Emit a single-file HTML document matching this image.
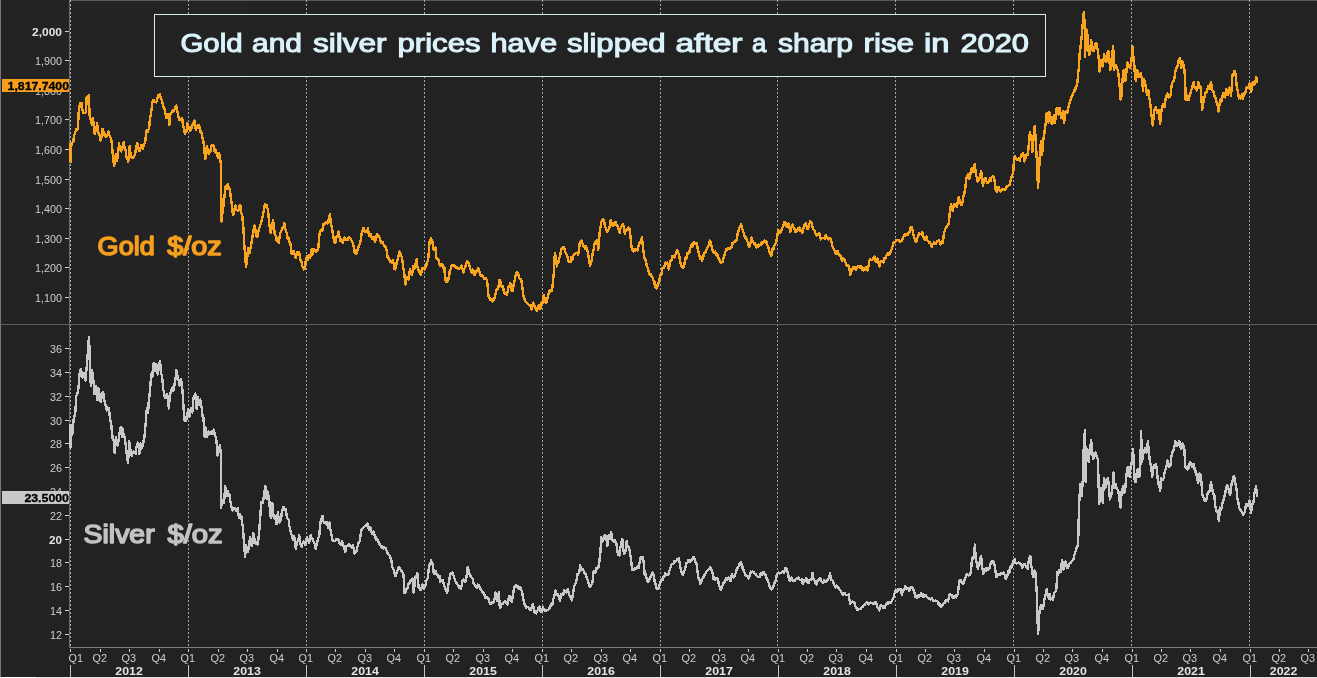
<!DOCTYPE html>
<html><head><meta charset="utf-8"><title>Gold and silver</title>
<style>
html,body{margin:0;padding:0;background:#232323;}
body{width:1317px;height:678px;overflow:hidden;}
svg{display:block;opacity:0.999;will-change:transform;font-family:"Liberation Sans",sans-serif;}
.ax{font-size:11px;fill:#cfcfcf;}
.b{font-weight:bold;fill:#e4e4e4;}
</style></head><body>
<svg width="1317" height="678" viewBox="0 0 1317 678">
<rect x="0" y="0" width="1317" height="678" fill="#232323"/>

<rect x="69" y="0" width="1248" height="1" fill="#5c5c5c"/>
<rect x="0" y="0" width="1" height="678" fill="#7a7a7a"/>
<line x1="70.5" y1="0" x2="70.5" y2="647" stroke="#b4b4b4" stroke-width="1" stroke-dasharray="2,2"/>
<line x1="188.5" y1="0" x2="188.5" y2="647" stroke="#a6a6a6" stroke-width="1" stroke-dasharray="2,2"/>
<line x1="306.5" y1="0" x2="306.5" y2="647" stroke="#a6a6a6" stroke-width="1" stroke-dasharray="2,2"/>
<line x1="424.5" y1="0" x2="424.5" y2="647" stroke="#a6a6a6" stroke-width="1" stroke-dasharray="2,2"/>
<line x1="542.5" y1="0" x2="542.5" y2="647" stroke="#a6a6a6" stroke-width="1" stroke-dasharray="2,2"/>
<line x1="660.5" y1="0" x2="660.5" y2="647" stroke="#a6a6a6" stroke-width="1" stroke-dasharray="2,2"/>
<line x1="777.5" y1="0" x2="777.5" y2="647" stroke="#a6a6a6" stroke-width="1" stroke-dasharray="2,2"/>
<line x1="895.5" y1="0" x2="895.5" y2="647" stroke="#a6a6a6" stroke-width="1" stroke-dasharray="2,2"/>
<line x1="1013.5" y1="0" x2="1013.5" y2="647" stroke="#a6a6a6" stroke-width="1" stroke-dasharray="2,2"/>
<line x1="1131.5" y1="0" x2="1131.5" y2="647" stroke="#a6a6a6" stroke-width="1" stroke-dasharray="2,2"/>
<line x1="1249.5" y1="0" x2="1249.5" y2="647" stroke="#a6a6a6" stroke-width="1" stroke-dasharray="2,2"/>
<rect x="0" y="324" width="1317" height="1" fill="#5e5e5e"/>
<rect x="69" y="647" width="1248" height="1" fill="#828282"/>
<rect x="69" y="0" width="1" height="648" fill="#6c6c6c"/>
<rect x="70" y="649" width="1" height="3" fill="#d0d0d0"/>
<text class="ax" x="68.5" y="662.2" textLength="14.5" lengthAdjust="spacingAndGlyphs">Q1</text>
<rect x="100" y="649" width="1" height="3" fill="#d0d0d0"/>
<text class="ax" x="92.5" y="662.2" textLength="14.5" lengthAdjust="spacingAndGlyphs">Q2</text>
<rect x="129" y="649" width="1" height="3" fill="#d0d0d0"/>
<text class="ax" x="121.5" y="662.2" textLength="14.5" lengthAdjust="spacingAndGlyphs">Q3</text>
<rect x="159" y="649" width="1" height="3" fill="#d0d0d0"/>
<text class="ax" x="151.5" y="662.2" textLength="14.5" lengthAdjust="spacingAndGlyphs">Q4</text>
<rect x="188" y="649" width="1" height="3" fill="#d0d0d0"/>
<text class="ax" x="180.5" y="662.2" textLength="14.5" lengthAdjust="spacingAndGlyphs">Q1</text>
<rect x="218" y="649" width="1" height="3" fill="#d0d0d0"/>
<text class="ax" x="210.5" y="662.2" textLength="14.5" lengthAdjust="spacingAndGlyphs">Q2</text>
<rect x="247" y="649" width="1" height="3" fill="#d0d0d0"/>
<text class="ax" x="239.5" y="662.2" textLength="14.5" lengthAdjust="spacingAndGlyphs">Q3</text>
<rect x="277" y="649" width="1" height="3" fill="#d0d0d0"/>
<text class="ax" x="269.5" y="662.2" textLength="14.5" lengthAdjust="spacingAndGlyphs">Q4</text>
<rect x="306" y="649" width="1" height="3" fill="#d0d0d0"/>
<text class="ax" x="298.5" y="662.2" textLength="14.5" lengthAdjust="spacingAndGlyphs">Q1</text>
<rect x="335" y="649" width="1" height="3" fill="#d0d0d0"/>
<text class="ax" x="327.5" y="662.2" textLength="14.5" lengthAdjust="spacingAndGlyphs">Q2</text>
<rect x="365" y="649" width="1" height="3" fill="#d0d0d0"/>
<text class="ax" x="357.5" y="662.2" textLength="14.5" lengthAdjust="spacingAndGlyphs">Q3</text>
<rect x="394" y="649" width="1" height="3" fill="#d0d0d0"/>
<text class="ax" x="386.5" y="662.2" textLength="14.5" lengthAdjust="spacingAndGlyphs">Q4</text>
<rect x="424" y="649" width="1" height="3" fill="#d0d0d0"/>
<text class="ax" x="416.5" y="662.2" textLength="14.5" lengthAdjust="spacingAndGlyphs">Q1</text>
<rect x="453" y="649" width="1" height="3" fill="#d0d0d0"/>
<text class="ax" x="445.5" y="662.2" textLength="14.5" lengthAdjust="spacingAndGlyphs">Q2</text>
<rect x="483" y="649" width="1" height="3" fill="#d0d0d0"/>
<text class="ax" x="475.5" y="662.2" textLength="14.5" lengthAdjust="spacingAndGlyphs">Q3</text>
<rect x="512" y="649" width="1" height="3" fill="#d0d0d0"/>
<text class="ax" x="504.5" y="662.2" textLength="14.5" lengthAdjust="spacingAndGlyphs">Q4</text>
<rect x="542" y="649" width="1" height="3" fill="#d0d0d0"/>
<text class="ax" x="534.5" y="662.2" textLength="14.5" lengthAdjust="spacingAndGlyphs">Q1</text>
<rect x="571" y="649" width="1" height="3" fill="#d0d0d0"/>
<text class="ax" x="563.5" y="662.2" textLength="14.5" lengthAdjust="spacingAndGlyphs">Q2</text>
<rect x="601" y="649" width="1" height="3" fill="#d0d0d0"/>
<text class="ax" x="593.5" y="662.2" textLength="14.5" lengthAdjust="spacingAndGlyphs">Q3</text>
<rect x="630" y="649" width="1" height="3" fill="#d0d0d0"/>
<text class="ax" x="622.5" y="662.2" textLength="14.5" lengthAdjust="spacingAndGlyphs">Q4</text>
<rect x="660" y="649" width="1" height="3" fill="#d0d0d0"/>
<text class="ax" x="652.5" y="662.2" textLength="14.5" lengthAdjust="spacingAndGlyphs">Q1</text>
<rect x="689" y="649" width="1" height="3" fill="#d0d0d0"/>
<text class="ax" x="681.5" y="662.2" textLength="14.5" lengthAdjust="spacingAndGlyphs">Q2</text>
<rect x="719" y="649" width="1" height="3" fill="#d0d0d0"/>
<text class="ax" x="711.5" y="662.2" textLength="14.5" lengthAdjust="spacingAndGlyphs">Q3</text>
<rect x="748" y="649" width="1" height="3" fill="#d0d0d0"/>
<text class="ax" x="740.5" y="662.2" textLength="14.5" lengthAdjust="spacingAndGlyphs">Q4</text>
<rect x="778" y="649" width="1" height="3" fill="#d0d0d0"/>
<text class="ax" x="770.5" y="662.2" textLength="14.5" lengthAdjust="spacingAndGlyphs">Q1</text>
<rect x="807" y="649" width="1" height="3" fill="#d0d0d0"/>
<text class="ax" x="799.5" y="662.2" textLength="14.5" lengthAdjust="spacingAndGlyphs">Q2</text>
<rect x="836" y="649" width="1" height="3" fill="#d0d0d0"/>
<text class="ax" x="828.5" y="662.2" textLength="14.5" lengthAdjust="spacingAndGlyphs">Q3</text>
<rect x="866" y="649" width="1" height="3" fill="#d0d0d0"/>
<text class="ax" x="858.5" y="662.2" textLength="14.5" lengthAdjust="spacingAndGlyphs">Q4</text>
<rect x="896" y="649" width="1" height="3" fill="#d0d0d0"/>
<text class="ax" x="888.5" y="662.2" textLength="14.5" lengthAdjust="spacingAndGlyphs">Q1</text>
<rect x="925" y="649" width="1" height="3" fill="#d0d0d0"/>
<text class="ax" x="917.5" y="662.2" textLength="14.5" lengthAdjust="spacingAndGlyphs">Q2</text>
<rect x="954" y="649" width="1" height="3" fill="#d0d0d0"/>
<text class="ax" x="946.5" y="662.2" textLength="14.5" lengthAdjust="spacingAndGlyphs">Q3</text>
<rect x="984" y="649" width="1" height="3" fill="#d0d0d0"/>
<text class="ax" x="976.5" y="662.2" textLength="14.5" lengthAdjust="spacingAndGlyphs">Q4</text>
<rect x="1014" y="649" width="1" height="3" fill="#d0d0d0"/>
<text class="ax" x="1006.5" y="662.2" textLength="14.5" lengthAdjust="spacingAndGlyphs">Q1</text>
<rect x="1043" y="649" width="1" height="3" fill="#d0d0d0"/>
<text class="ax" x="1035.5" y="662.2" textLength="14.5" lengthAdjust="spacingAndGlyphs">Q2</text>
<rect x="1072" y="649" width="1" height="3" fill="#d0d0d0"/>
<text class="ax" x="1064.5" y="662.2" textLength="14.5" lengthAdjust="spacingAndGlyphs">Q3</text>
<rect x="1102" y="649" width="1" height="3" fill="#d0d0d0"/>
<text class="ax" x="1094.5" y="662.2" textLength="14.5" lengthAdjust="spacingAndGlyphs">Q4</text>
<rect x="1132" y="649" width="1" height="3" fill="#d0d0d0"/>
<text class="ax" x="1124.5" y="662.2" textLength="14.5" lengthAdjust="spacingAndGlyphs">Q1</text>
<rect x="1161" y="649" width="1" height="3" fill="#d0d0d0"/>
<text class="ax" x="1153.5" y="662.2" textLength="14.5" lengthAdjust="spacingAndGlyphs">Q2</text>
<rect x="1190" y="649" width="1" height="3" fill="#d0d0d0"/>
<text class="ax" x="1182.5" y="662.2" textLength="14.5" lengthAdjust="spacingAndGlyphs">Q3</text>
<rect x="1220" y="649" width="1" height="3" fill="#d0d0d0"/>
<text class="ax" x="1212.5" y="662.2" textLength="14.5" lengthAdjust="spacingAndGlyphs">Q4</text>
<rect x="1250" y="649" width="1" height="3" fill="#d0d0d0"/>
<text class="ax" x="1242.5" y="662.2" textLength="14.5" lengthAdjust="spacingAndGlyphs">Q1</text>
<rect x="1279" y="649" width="1" height="3" fill="#d0d0d0"/>
<text class="ax" x="1271.5" y="662.2" textLength="14.5" lengthAdjust="spacingAndGlyphs">Q2</text>
<rect x="1308" y="649" width="1" height="3" fill="#d0d0d0"/>
<text class="ax" x="1300.5" y="662.2" textLength="14.5" lengthAdjust="spacingAndGlyphs">Q3</text>
<rect x="70" y="665" width="1" height="12" fill="#c8c8c8"/>
<text class="ax b" x="115.3" y="674.5" textLength="27.5" lengthAdjust="spacingAndGlyphs">2012</text>
<rect x="188" y="665" width="1" height="12" fill="#c8c8c8"/>
<text class="ax b" x="233.3" y="674.5" textLength="27.5" lengthAdjust="spacingAndGlyphs">2013</text>
<rect x="306" y="665" width="1" height="12" fill="#c8c8c8"/>
<text class="ax b" x="351.3" y="674.5" textLength="27.5" lengthAdjust="spacingAndGlyphs">2014</text>
<rect x="424" y="665" width="1" height="12" fill="#c8c8c8"/>
<text class="ax b" x="469.3" y="674.5" textLength="27.5" lengthAdjust="spacingAndGlyphs">2015</text>
<rect x="542" y="665" width="1" height="12" fill="#c8c8c8"/>
<text class="ax b" x="587.3" y="674.5" textLength="27.5" lengthAdjust="spacingAndGlyphs">2016</text>
<rect x="660" y="665" width="1" height="12" fill="#c8c8c8"/>
<text class="ax b" x="705.3" y="674.5" textLength="27.5" lengthAdjust="spacingAndGlyphs">2017</text>
<rect x="778" y="665" width="1" height="12" fill="#c8c8c8"/>
<text class="ax b" x="823.3" y="674.5" textLength="27.5" lengthAdjust="spacingAndGlyphs">2018</text>
<rect x="896" y="665" width="1" height="12" fill="#c8c8c8"/>
<text class="ax b" x="941.3" y="674.5" textLength="27.5" lengthAdjust="spacingAndGlyphs">2019</text>
<rect x="1014" y="665" width="1" height="12" fill="#c8c8c8"/>
<text class="ax b" x="1059.3" y="674.5" textLength="27.5" lengthAdjust="spacingAndGlyphs">2020</text>
<rect x="1132" y="665" width="1" height="12" fill="#c8c8c8"/>
<text class="ax b" x="1177.3" y="674.5" textLength="27.5" lengthAdjust="spacingAndGlyphs">2021</text>
<rect x="1250" y="665" width="1" height="12" fill="#c8c8c8"/>
<text class="ax b" x="1269.8" y="674.5" textLength="27.5" lengthAdjust="spacingAndGlyphs">2022</text>
<rect x="65" y="31" width="4" height="1" fill="#d0d0d0"/>
<text class="ax b" x="32" y="35.8" textLength="30" lengthAdjust="spacingAndGlyphs">2,000</text>
<rect x="65" y="60" width="4" height="1" fill="#d0d0d0"/>
<text class="ax" x="35" y="65.1" textLength="27" lengthAdjust="spacingAndGlyphs">1,900</text>
<rect x="65" y="90" width="4" height="1" fill="#d0d0d0"/>
<text class="ax" x="35" y="94.8" textLength="27" lengthAdjust="spacingAndGlyphs">1,800</text>
<rect x="65" y="119" width="4" height="1" fill="#d0d0d0"/>
<text class="ax" x="35" y="124.4" textLength="27" lengthAdjust="spacingAndGlyphs">1,700</text>
<rect x="65" y="149" width="4" height="1" fill="#d0d0d0"/>
<text class="ax" x="35" y="154" textLength="27" lengthAdjust="spacingAndGlyphs">1,600</text>
<rect x="65" y="179" width="4" height="1" fill="#d0d0d0"/>
<text class="ax" x="35" y="183.6" textLength="27" lengthAdjust="spacingAndGlyphs">1,500</text>
<rect x="65" y="208" width="4" height="1" fill="#d0d0d0"/>
<text class="ax" x="35" y="213.2" textLength="27" lengthAdjust="spacingAndGlyphs">1,400</text>
<rect x="65" y="238" width="4" height="1" fill="#d0d0d0"/>
<text class="ax" x="35" y="242.8" textLength="27" lengthAdjust="spacingAndGlyphs">1,300</text>
<rect x="65" y="267" width="4" height="1" fill="#d0d0d0"/>
<text class="ax" x="35" y="272.4" textLength="27" lengthAdjust="spacingAndGlyphs">1,200</text>
<rect x="65" y="297" width="4" height="1" fill="#d0d0d0"/>
<text class="ax" x="35" y="302" textLength="27" lengthAdjust="spacingAndGlyphs">1,100</text>
<rect x="65" y="634" width="4" height="1" fill="#d0d0d0"/>
<text class="ax" x="50" y="638.7" textLength="12" lengthAdjust="spacingAndGlyphs">12</text>
<rect x="65" y="610" width="4" height="1" fill="#d0d0d0"/>
<text class="ax" x="50" y="614.9" textLength="12" lengthAdjust="spacingAndGlyphs">14</text>
<rect x="65" y="586" width="4" height="1" fill="#d0d0d0"/>
<text class="ax" x="50" y="591.1" textLength="12" lengthAdjust="spacingAndGlyphs">16</text>
<rect x="65" y="562" width="4" height="1" fill="#d0d0d0"/>
<text class="ax" x="50" y="567.3" textLength="12" lengthAdjust="spacingAndGlyphs">18</text>
<rect x="65" y="539" width="4" height="1" fill="#d0d0d0"/>
<text class="ax b" x="49" y="543.5" textLength="13" lengthAdjust="spacingAndGlyphs">20</text>
<rect x="65" y="515" width="4" height="1" fill="#d0d0d0"/>
<text class="ax" x="50" y="519.7" textLength="12" lengthAdjust="spacingAndGlyphs">22</text>
<rect x="65" y="491" width="4" height="1" fill="#d0d0d0"/>
<text class="ax" x="50" y="495.9" textLength="12" lengthAdjust="spacingAndGlyphs">24</text>
<rect x="65" y="467" width="4" height="1" fill="#d0d0d0"/>
<text class="ax" x="50" y="472.1" textLength="12" lengthAdjust="spacingAndGlyphs">26</text>
<rect x="65" y="443" width="4" height="1" fill="#d0d0d0"/>
<text class="ax" x="50" y="448.3" textLength="12" lengthAdjust="spacingAndGlyphs">28</text>
<rect x="65" y="420" width="4" height="1" fill="#d0d0d0"/>
<text class="ax" x="50" y="424.5" textLength="12" lengthAdjust="spacingAndGlyphs">30</text>
<rect x="65" y="396" width="4" height="1" fill="#d0d0d0"/>
<text class="ax" x="50" y="400.7" textLength="12" lengthAdjust="spacingAndGlyphs">32</text>
<rect x="65" y="372" width="4" height="1" fill="#d0d0d0"/>
<text class="ax" x="50" y="376.9" textLength="12" lengthAdjust="spacingAndGlyphs">34</text>
<rect x="65" y="348" width="4" height="1" fill="#d0d0d0"/>
<text class="ax" x="50" y="353.1" textLength="12" lengthAdjust="spacingAndGlyphs">36</text>
<rect x="2" y="79" width="67" height="13" fill="#f7a01f"/>
<text x="7.6" y="89.8" font-size="11" font-weight="bold" fill="#000" stroke="#000" stroke-width="0.3" textLength="61.4" lengthAdjust="spacingAndGlyphs">1,817.7400</text>
<rect x="2" y="491" width="67" height="13" fill="#cacaca"/>
<text x="24.4" y="501.8" font-size="11" font-weight="bold" fill="#000" stroke="#000" stroke-width="0.3" textLength="44.6" lengthAdjust="spacingAndGlyphs">23.5000</text>
<path d="M70.6,162 L70.6,143.4 L71.6,144.95 L72.6,142.1 L73.3,141.99 L74,135.5 L74.8,134.31 L75.6,131.14 L76.4,129.08 L77.2,130.21 L78,128.8 L78.6,112.9 L79.6,105.65 L80.6,102.9 L81.5,103.07 L82.4,110.01 L83.3,112.9 L84.17,112.76 L85.03,113.24 L85.9,111.6 L86.6,97.6 L87.2,103.6 L88,97.48 L88.8,95 L89.6,115.5 L90.37,118.61 L91.13,121.56 L91.9,124.8 L92.6,118.2 L93.6,122.84 L94.6,134.1 L95.47,131.75 L96.33,127.74 L97.2,123.5 L98.03,133.08 L98.85,132.6 L99.67,136.16 L100.5,140.8 L101.5,137.51 L102.5,128.8 L103.33,131.24 L104.15,134.8 L104.97,134 L105.8,136.8 L106.7,135.51 L107.6,135.52 L108.5,131.5 L109.4,135.67 L110.3,137.05 L111.2,139.4 L111.85,143.34 L112.5,151.4 L113.3,159.68 L114.1,166 L114.95,160.22 L115.8,154.1 L116.45,158.99 L117.1,160.7 L118.1,152.53 L119.1,143.4 L120.1,149.68 L121.1,151.4 L122,148.19 L122.9,145.62 L123.8,142.1 L124.67,148.43 L125.53,149.44 L126.4,156.7 L127.3,158.51 L128.2,162 L128.95,152.95 L129.7,146.1 L130.7,156.41 L131.7,158 L132.55,156.85 L133.4,157.29 L134.25,156.25 L135.1,154.1 L136.05,148.22 L137,143.4 L138,144.78 L139,151.4 L139.9,150.83 L140.8,146.31 L141.7,144.8 L142.35,147.96 L143,148.7 L144,143.84 L145,143.4 L145.85,136.06 L146.7,130.2 L147.5,132.08 L148.3,130.2 L149.2,127.01 L150.1,117.59 L151,114.2 L152,105.03 L153,99.6 L153.82,100.21 L154.65,101.97 L155.48,101.85 L156.3,102.3 L156.95,100.4 L157.6,97.6 L158.4,95.02 L159.2,96.28 L160,94.3 L160.8,98.52 L161.6,99.6 L162.6,102.95 L163.6,107.6 L164.5,108.41 L165.4,113.22 L166.3,118.2 L167.3,117.65 L168.3,114.2 L169.3,124.8 L170.1,115.06 L170.9,112.9 L171.8,112.32 L172.7,110.45 L173.6,111.6 L174.47,109.39 L175.33,107.21 L176.2,105.6 L177.2,110.58 L178.2,115.5 L179.2,119.9 L180.2,119.5 L181.2,119.52 L182.2,118.2 L183.1,126.01 L184,128.53 L184.9,134.1 L185.72,131.25 L186.55,130.84 L187.38,123 L188.2,126.2 L188.9,127.83 L189.6,129.89 L190.3,131.3 L191.1,126.87 L191.9,127.8 L192.7,123.75 L193.5,122.6 L194.33,120.61 L195.17,127.21 L196,130.1 L196.87,126.65 L197.73,125.82 L198.6,125.1 L199.43,126.86 L200.27,131.74 L201.1,131.3 L201.93,135.25 L202.77,138.78 L203.6,142.6 L204.45,151.58 L205.3,159 L206.2,149.07 L207.1,146.4 L208.1,152.66 L209.1,153.9 L209.86,150 L210.62,151.3 L211.38,146.42 L212.14,144.98 L212.9,145.2 L213.73,145.64 L214.57,151.47 L215.4,148.9 L216.23,153.23 L217.07,153.56 L217.9,157.7 L219.1,152.7 L220,157.72 L220.9,164 L221.6,221.7 L222.6,211.02 L223.6,205.4 L224.5,195.92 L225.4,186.6 L226.16,185.58 L226.92,188.67 L227.68,184.33 L228.44,186.82 L229.2,187.8 L230.2,192.25 L231.2,200.4 L232.05,206.32 L232.9,215.4 L233.73,213.63 L234.57,209.01 L235.4,205.4 L236.3,209.19 L237.2,210.4 L238.03,211.35 L238.87,209.6 L239.7,205.4 L240.53,205.72 L241.37,213.25 L242.2,215.4 L243.2,225.33 L244.2,243 L245.1,254.81 L246,266.9 L247,261.67 L248,248 L248.85,250.12 L249.7,253.1 L250.4,248.09 L251.1,245.07 L251.8,240.5 L252.63,235.54 L253.47,230.56 L254.3,225.5 L255.13,227.57 L255.97,235.35 L256.8,236.7 L257.63,235.76 L258.47,230.43 L259.3,228 L260.13,225.76 L260.97,223.58 L261.8,219.2 L262.55,217.7 L263.3,212.51 L264.05,209.4 L264.8,204.1 L265.62,205.1 L266.45,204.9 L267.28,207.74 L268.1,210.4 L268.93,220.18 L269.77,227.62 L270.6,233 L271.43,229.12 L272.27,223.35 L273.1,220.4 L273.93,226.11 L274.77,234.13 L275.6,235.5 L276.43,240.35 L277.25,237.75 L278.07,241.03 L278.9,243 L279.73,235.64 L280.57,232.17 L281.4,230.5 L282.15,229.01 L282.9,226.75 L283.65,226.92 L284.4,222.9 L285.23,228.83 L286.07,231.32 L286.9,233 L287.73,238.6 L288.57,237.76 L289.4,241.8 L290.16,241.78 L290.92,247.33 L291.68,253.99 L292.44,251.56 L293.2,253.1 L294,251.4 L294.8,254.84 L295.6,257.85 L296.4,255.6 L297.23,252.24 L298.07,254.69 L298.9,251.8 L299.73,254.01 L300.57,260.81 L301.4,261.8 L302.23,265.63 L303.07,267.37 L303.9,269.4 L304.77,268.92 L305.63,261.19 L306.5,258.1 L307.25,256.35 L308,259.9 L308.75,254.78 L309.5,255.6 L310.25,257.51 L311,252.39 L311.75,249.23 L312.5,249.3 L312.5,254.6 L313.25,251.65 L314,248.7 L314.73,249.86 L315.47,250.93 L316.2,251.6 L316.93,249.87 L317.67,250.14 L318.4,247.2 L319.15,236.69 L319.9,232.5 L320.63,230.75 L321.37,230.14 L322.1,229.5 L322.83,230.51 L323.57,223.86 L324.3,225.1 L325.05,224.04 L325.8,222.04 L326.55,222.63 L327.3,223.6 L328.2,221.69 L329.1,218.03 L330,214 L330.65,222.46 L331.3,225.1 L332.05,228.29 L332.8,233.9 L333.75,238.89 L334.7,242.8 L335.65,241.85 L336.6,236.9 L337.5,235.73 L338.4,231.7 L339.1,234.55 L339.8,238.4 L340.57,241.18 L341.33,239.6 L342.1,242.1 L342.83,242.86 L343.57,239.29 L344.3,237.6 L345.03,238.19 L345.77,239.41 L346.5,239.8 L347.23,239.9 L347.97,240.05 L348.7,236.9 L349.43,237.47 L350.17,237.95 L350.9,239.1 L351.85,241.62 L352.8,242.8 L353.55,246.11 L354.3,251.6 L355.05,250.44 L355.8,253.9 L356.8,252.44 L357.8,248.7 L358.8,245.98 L359.8,244.3 L360.75,240.16 L361.7,233.2 L362.53,231.07 L363.37,227.79 L364.2,231 L364.93,231.59 L365.67,231.66 L366.4,231.7 L367.15,231.86 L367.9,228 L368.5,232.65 L369.1,236.2 L369.95,235.44 L370.8,233.9 L371.55,237.37 L372.3,239.1 L373.05,237.46 L373.8,236.9 L375,242.1 L375.85,238.86 L376.7,235.4 L377.43,233.99 L378.17,236.58 L378.9,236.2 L379.9,238.31 L380.9,242.8 L381.75,241.74 L382.6,242.1 L383.33,244.17 L384.07,245.64 L384.8,245.7 L385.8,247.4 L386.8,251.6 L387.65,257.43 L388.5,258.3 L389.23,258.33 L389.97,261.56 L390.7,261.2 L391.47,262.47 L392.23,261.09 L393,260.5 L393.73,263.74 L394.47,269.28 L395.2,269.4 L395.95,267.11 L396.7,262 L397.65,259.86 L398.6,256.1 L399.6,251.51 L400.6,253.9 L401.6,256.52 L402.6,262 L403.3,268.63 L404,270.8 L404.75,278.17 L405.5,284.8 L406.25,278.92 L407,276.7 L407.75,276.9 L408.5,279.7 L409.2,273.96 L409.9,269.4 L410.85,273.66 L411.8,275.3 L412.55,271.64 L413.3,266.4 L414.2,269.18 L415.1,267.9 L415.85,262.16 L416.6,259 L417.3,265.76 L418,269.4 L418.77,270.07 L419.53,271.86 L420.3,273.8 L421.03,274.58 L421.77,269.98 L422.5,267.9 L423.23,268.18 L423.97,268.57 L424.7,269.4 L425.43,266.4 L426.17,266.61 L426.9,262 L427.65,261.64 L428.4,257.5 L429.5,242.1 L430.25,241.24 L431,238.4 L431.75,240.5 L432.5,242.1 L433.5,249.5 L434.45,249.71 L435.4,247.3 L436.4,258.4 L437.4,259.01 L438.4,259.8 L439.25,263.26 L440.1,265.7 L440.83,265.69 L441.57,264.87 L442.3,264.3 L443.3,267.62 L444.3,267.2 L445,276.63 L445.7,280.5 L446.47,282 L447.23,278.33 L448,280.5 L448.85,278.13 L449.7,271.6 L450.65,269.37 L451.6,265.7 L452.47,265 L453.33,265.21 L454.2,265 L455.03,267.04 L455.87,267.82 L456.7,267.2 L457.57,268.68 L458.43,268.36 L459.3,268.7 L460.03,267.74 L460.77,267.66 L461.5,265.7 L462.45,268.94 L463.4,272.4 L464.3,268.47 L465.2,267.2 L466.1,263.33 L467,261.3 L467.95,262.18 L468.9,263.5 L469.85,267.34 L470.8,270.2 L471.7,272.64 L472.6,269.4 L473.5,270.63 L474.4,275.3 L475.35,274.05 L476.3,271.6 L477.25,269.68 L478.2,268 L479.1,270.93 L480,273.1 L480.73,275.53 L481.47,276.12 L482.2,275.3 L483.15,276.95 L484.1,279 L485,277.95 L485.9,278.3 L486.65,279.43 L487.4,283.4 L488.5,296.7 L489.33,297.34 L490.17,299.88 L491,298.9 L491.77,299.3 L492.53,301.4 L493.3,301.2 L494,299.92 L494.7,296.7 L495.6,293.6 L496.5,289.4 L497.45,289.74 L498.4,287.1 L499,283.28 L499.6,279.8 L500.5,281.87 L501.4,286.4 L502.35,285.76 L503.3,288.6 L504.2,292.57 L505.1,293.8 L506.05,293.61 L507,294.5 L507.85,289.99 L508.7,286.4 L509.45,285.87 L510.2,282.7 L510.95,285.5 L511.7,290.8 L512.65,290.66 L513.6,284.9 L514.35,282.18 L515.1,277.5 L515.85,274.11 L516.6,272.4 L517.6,272.85 L518.6,275.3 L519.6,278.73 L520.6,279 L521.3,280.32 L522,284.9 L522.75,290 L523.5,296.7 L524.45,298.96 L525.4,301.2 L526.23,302.45 L527.07,303.15 L527.9,304.1 L528.85,304.98 L529.8,304.8 L530.7,306.55 L531.6,309.3 L532.35,305.78 L533.1,302.6 L534,305.84 L534.9,305.6 L535.85,309.04 L536.8,310.7 L537.75,307.09 L538.7,304.8 L539.6,309.16 L540.5,308.5 L541.35,303.38 L542.2,304.1 L542.95,299.82 L543.7,295.3 L544.65,298.83 L545.6,300.4 L545.7,302.7 L546.47,302.22 L547.23,298.75 L548,296.5 L548.9,292.77 L549.8,290.3 L550.5,291.55 L551.2,290.58 L551.9,291.2 L552.8,283.7 L553.7,274.4 L554.4,257.98 L555.1,253.1 L556,260.52 L556.9,266.4 L557.6,262.14 L558.3,262.97 L559,258.4 L559.73,256.89 L560.47,253.92 L561.2,249.6 L561.97,248.04 L562.73,248.51 L563.5,246.9 L564.27,248.46 L565.03,251.35 L565.8,253.1 L566.5,254.66 L567.2,255.33 L567.9,258.4 L568.77,262.05 L569.63,261.7 L570.5,262 L571.4,257.16 L572.3,259.8 L573.2,256.7 L574.1,253.77 L575,254.01 L575.9,253.1 L576.67,252.98 L577.43,253.64 L578.2,254.9 L579.05,248.55 L579.9,241.6 L580.63,241.5 L581.37,240.4 L582.1,242.5 L582.95,244.69 L583.8,246.9 L584.5,247.18 L585.2,249.01 L585.9,246.1 L586.67,248.41 L587.43,250.19 L588.2,254.9 L589.1,259.48 L590,265.5 L590.9,264.09 L591.8,260.2 L592.7,253.11 L593.6,249.6 L594.45,244.05 L595.3,241.6 L596.2,241.94 L597.1,239.9 L598.3,249.6 L599.05,240.28 L599.8,231 L600.65,226.54 L601.5,221.3 L602.4,219.29 L603.3,219.5 L604.2,221.59 L605.1,226.6 L605.8,227.88 L606.5,229.9 L607.2,231.9 L608.1,230.05 L609,229.2 L609.85,225.44 L610.7,220.4 L611.47,222.98 L612.23,224.75 L613,225.7 L613.77,225.52 L614.53,222.58 L615.3,223 L616.03,222.23 L616.77,226 L617.5,225.7 L618.2,228.09 L618.9,230.62 L619.6,232.8 L620.5,228.26 L621.4,226.6 L622.25,224.99 L623.1,223.9 L624,227.76 L624.9,233.7 L625.8,230.49 L626.7,230.1 L627.6,228.02 L628.5,227.5 L629.35,228.75 L630.2,233.7 L630.9,240.86 L631.6,247.8 L632.33,250.45 L633.07,249.32 L633.8,251.4 L634.57,250.93 L635.33,248.71 L636.1,249.6 L636.87,249.61 L637.63,250.33 L638.4,246.9 L639.1,243.46 L639.8,243.06 L640.5,241.6 L641.2,241.53 L641.9,237.2 L642.55,243.95 L643.2,249.6 L644.05,255.07 L644.9,260.2 L645.8,259.8 L646.7,265.5 L647.6,267.93 L648.5,270.8 L649.27,273.37 L650.03,275.35 L650.8,274.4 L651.5,276.83 L652.2,276.47 L652.9,278.8 L653.6,280.44 L654.3,281.41 L655,286.8 L655.77,285.19 L656.53,288.48 L657.3,286.8 L658.2,283.98 L659.1,281.5 L660,275.95 L660.9,274.4 L661.67,274.31 L662.43,267.77 L663.2,268.2 L664.15,267.85 L665.1,263.4 L665.83,262.64 L666.57,263.49 L667.3,262.7 L668.05,267.01 L668.8,269.4 L669.65,265.31 L670.5,260.5 L671.45,260.03 L672.4,256.1 L673.17,256.59 L673.93,256.59 L674.7,257.5 L675.4,254.4 L676.1,253.1 L677,250.38 L677.9,251.6 L678.85,254.36 L679.8,259 L680.75,264.04 L681.7,266.4 L682.6,267.87 L683.5,267.1 L684.4,264.82 L685.3,257.5 L686.25,259.01 L687.2,253.1 L687.93,253.6 L688.67,253.15 L689.4,252.4 L690.13,247.91 L690.87,246.67 L691.6,244.3 L692.33,246.55 L693.07,243.55 L693.8,242.1 L694.57,242.69 L695.33,243.89 L696.1,244.3 L696.83,243.33 L697.57,247.67 L698.3,251.6 L699.15,253.95 L700,259 L701,257.42 L702,261.2 L702.95,258.45 L703.9,253.1 L704.9,253.41 L705.9,250.9 L706.9,248.79 L707.9,247.2 L708.85,244.41 L709.8,240.6 L710.65,241.89 L711.5,245.7 L712.4,249.67 L713.3,252.4 L714.25,253.04 L715.2,251.6 L716.2,254.84 L717.2,253.9 L718.05,258.22 L718.9,258.3 L719.8,261.16 L720.7,262.7 L721.65,262.18 L722.6,262 L723.55,257.53 L724.5,255.3 L725.4,251.53 L726.3,249.4 L727.03,249.49 L727.77,248.98 L728.5,248 L729.45,248.37 L730.4,248.7 L731.3,247.84 L732.2,243.5 L732.93,243.71 L733.67,242.58 L734.4,242.1 L735.13,241.05 L735.87,240.68 L736.6,239.8 L737.5,234.35 L738.4,231.7 L739.2,227.78 L740,227.28 L740.8,224.3 L741.65,225.97 L742.5,229.5 L743.4,232.02 L744.3,235.4 L745.25,238.43 L746.2,237.6 L747.15,240.26 L748.1,243.5 L749,246.54 L749.9,245.7 L750.8,241.64 L751.7,237.6 L752.65,241.92 L753.6,242.8 L754.33,244.24 L755.07,242.92 L755.8,245.7 L756.53,247.61 L757.27,246.46 L758,247.2 L758.73,244.44 L759.47,245.85 L760.2,245 L760.97,244.66 L761.73,242.67 L762.5,243.5 L763.23,241.91 L763.97,242.13 L764.7,240.6 L765.55,242.4 L766.4,241.3 L767.4,245.54 L768.4,247.2 L769.35,251.94 L770.3,253.1 L771.05,255.51 L771.8,254.6 L772.65,248.32 L773.5,249.4 L774.4,245.77 L775.3,244.3 L776.25,240.87 L777.2,236.9 L778.15,230.32 L779.1,231.7 L779.8,232.61 L780.5,232.55 L781.2,231 L781.9,228.15 L782.6,227.6 L783.4,225.07 L784.2,222.28 L785,221.7 L785.9,224.27 L786.8,226.9 L787.65,224.99 L788.5,223.2 L789.45,227.64 L790.4,232.1 L791.4,227.12 L792.4,224.7 L793.25,227.04 L794.1,228.4 L794.83,229.21 L795.57,232.06 L796.3,232.1 L797.3,230.64 L798.3,228.4 L799.3,227.64 L800.3,230.6 L801.25,229.89 L802.2,232.8 L803.2,229.19 L804.2,225.4 L805.05,223.8 L805.9,223.2 L806.65,226.89 L807.4,229.1 L808.13,228.41 L808.87,225.2 L809.6,223.2 L810.33,221.32 L811.07,222.17 L811.8,223.9 L812.7,227.57 L813.6,229.8 L814.55,230.33 L815.5,233.5 L816.45,235.39 L817.4,235 L818.3,233.81 L819.2,232.8 L820.1,236.58 L821,239.4 L821.95,237.88 L822.9,238 L823.85,238.26 L824.8,238.7 L825.7,235.21 L826.6,237.2 L827.33,237.74 L828.07,239.2 L828.8,239.4 L829.75,238.13 L830.7,238.7 L831.45,241.44 L832.2,246.1 L833.1,247.49 L834,249 L834.85,251.68 L835.7,254.2 L836.7,251.69 L837.7,251.2 L838.65,254.23 L839.6,255.7 L840.5,255.66 L841.4,259.4 L842.13,260.68 L842.87,257.79 L843.6,259.4 L844.55,259.9 L845.5,262.3 L846.4,265.33 L847.3,265.3 L848,264.86 L848.7,266.7 L849.45,268.85 L850.2,274.8 L851.1,272.69 L852,270.4 L852.95,267.49 L853.9,266.7 L854.85,266.92 L855.8,269.7 L856.7,267.39 L857.6,266.7 L858.33,266.34 L859.07,266.58 L859.8,268.2 L860.75,266.28 L861.7,266.7 L862.4,269.76 L863.1,268.4 L863.8,270.4 L864.75,270.05 L865.7,267.5 L866.65,267.36 L867.6,270.4 L868.5,266.22 L869.4,260.8 L870.13,259.15 L870.87,259.81 L871.6,260.1 L872.33,260.16 L873.07,257.97 L873.8,257.9 L874.53,256.69 L875.27,260.08 L876,262.3 L876.75,260.25 L877.5,258.6 L878.45,263.37 L879.4,266.7 L880.3,262.39 L881.2,260.8 L881.93,260.93 L882.67,261.88 L883.4,262.3 L884.35,258.21 L885.3,258.6 L886.2,256.25 L887.1,254.2 L887.83,253.39 L888.57,255.22 L889.3,254.9 L890.25,252.56 L891.2,250.5 L892.1,247.69 L893,245.3 L893.73,241.87 L894.47,242.73 L895.2,241.6 L895.93,240.78 L896.67,239.77 L897.4,240.2 L898.13,240.18 L898.87,239.93 L899.6,241.6 L899.7,241.8 L900.47,241.39 L901.23,241.27 L902,240.1 L902.9,238.42 L903.8,235.6 L904.5,234.54 L905.2,236.07 L905.9,233.9 L906.8,235.29 L907.7,234.8 L908.4,232.6 L909.1,232.81 L909.8,232.1 L910.7,227.65 L911.6,226.8 L912.3,229.27 L913,232.1 L913.9,236.72 L914.8,239.2 L915.7,242 L916.6,241 L917.45,237.67 L918.3,235.6 L919.03,233.06 L919.77,234.28 L920.5,233.9 L921.35,234.5 L922.2,232.1 L923.1,235.81 L924,239.2 L924.77,239.69 L925.53,238.3 L926.3,236.5 L927.2,240.45 L928.1,241 L928.87,242.52 L929.63,242.01 L930.4,243.6 L931.1,244.39 L931.8,246.97 L932.5,244.5 L933.4,243.64 L934.3,241.88 L935.2,243.6 L936.05,244.34 L936.9,241 L937.8,240.95 L938.7,240.1 L939.6,241.62 L940.5,244.5 L941.27,243.23 L942.03,241.6 L942.8,242.7 L943.4,238.36 L944,232.1 L944.77,230.83 L945.53,228.31 L946.3,227.7 L947,226.06 L947.7,225.15 L948.4,225 L949.15,219.77 L949.9,210.8 L950.5,206.98 L951.1,203.8 L952,209.71 L952.9,210.8 L953.75,205.83 L954.6,203.8 L955.4,203.9 L956.2,205.29 L957,207.3 L957.85,201.06 L958.7,196.7 L959.6,200.09 L960.5,203.8 L961.2,205.01 L961.9,204.74 L962.6,202 L963.5,195.66 L964.4,193.1 L965.3,188.31 L966.2,179 L967.05,176.88 L967.9,174.5 L968.8,179.32 L969.7,178.1 L970.4,174.51 L971.1,169.98 L971.8,168.3 L972.5,171.49 L973.2,171.9 L973.95,169 L974.7,163.9 L975.9,174.5 L976.8,177.24 L977.7,181.6 L978.55,179.89 L979.4,178.1 L980.3,174.78 L981.2,171 L982.1,179.1 L983,186.1 L983.9,179.77 L984.8,178.1 L985.57,177.93 L986.33,181.11 L987.1,182.5 L987.8,182.55 L988.5,181.19 L989.2,181.6 L989.9,178.04 L990.6,181.09 L991.3,178.1 L992.2,176.78 L993.1,176.3 L994,177.96 L994.9,182.5 L995.6,189.14 L996.3,191.4 L997,191.46 L997.7,189.83 L998.4,186.9 L999.17,189.55 L999.93,190.68 L1000.7,191.4 L1001.47,189.42 L1002.23,189.63 L1003,188.7 L1003.7,189.39 L1004.4,190 L1005.1,189.6 L1005.83,189.23 L1006.57,186.69 L1007.3,186.9 L1008.07,185.66 L1008.83,185.4 L1009.6,185.2 L1010.45,181.43 L1011.3,178.1 L1012.2,174.93 L1013.1,173.7 L1013.8,163.22 L1014.5,157.7 L1015.22,156.47 L1015.94,158.96 L1016.66,158.95 L1017.38,160.17 L1018.1,159.8 L1018.9,157.68 L1019.7,160.7 L1020.5,157.35 L1021.3,155 L1022.1,155.2 L1022.9,153.3 L1023.55,155.06 L1024.2,161.5 L1025.05,158.17 L1025.9,158.2 L1026.7,153.81 L1027.5,155 L1028.15,151.64 L1028.8,143.6 L1029.9,132.2 L1030.75,135.52 L1031.6,138.7 L1032.4,151.7 L1033.05,142.34 L1033.7,135.5 L1034.8,125.7 L1035.9,143.6 L1036.9,161.5 L1038,187.5 L1038.6,178.08 L1039.2,168 L1040.2,146.8 L1041.3,141.2 L1042.1,155 L1042.75,146.65 L1043.4,138.7 L1044.2,135.04 L1045,127.4 L1045.85,122.62 L1046.7,112.7 L1047.5,119.61 L1048.3,122.5 L1049.4,111.9 L1050.2,116.25 L1051,119.2 L1051.6,123.2 L1052.2,124.1 L1053,121.11 L1053.8,115.2 L1054.45,120.94 L1055.1,122.5 L1055.9,111.9 L1056.7,107.9 L1057.5,111.77 L1058.3,114.4 L1058.95,111.29 L1059.6,107.9 L1060.45,113.09 L1061.3,117.6 L1062.1,113.93 L1062.9,111.1 L1064,123.3 L1064.85,117.06 L1065.7,111.1 L1066.5,112.73 L1067.3,112.7 L1068.1,108.94 L1068.9,104.6 L1069.7,102.33 L1070.5,99.7 L1071.35,96.56 L1072.2,96.5 L1072.9,93.06 L1073.6,92.16 L1074.3,91.6 L1075,87.94 L1075.7,89.4 L1076.55,85.28 L1077.4,82.9 L1078.2,72.97 L1079,66.7 L1079.65,53.8 L1080.3,48.8 L1081.4,39.1 L1082.6,26.1 L1083.2,14.93 L1083.8,12.3 L1084.7,24.5 L1085.1,56.9 L1085.7,42.07 L1086.3,29.3 L1087.4,34.2 L1088.05,41.87 L1088.7,52.1 L1089.35,54.87 L1090,48.8 L1090.6,45.9 L1091.2,39.9 L1092.3,50.4 L1093.1,49.4 L1093.9,51.2 L1094.7,46.53 L1095.5,43.9 L1096.35,43.37 L1097.2,47.2 L1097.85,50.64 L1098.5,56.9 L1099.1,63.44 L1099.7,71.5 L1100.3,65.74 L1100.9,60.2 L1101.7,62.11 L1102.5,66.7 L1103.3,61.77 L1104.1,53.7 L1104.95,58.98 L1105.8,61.8 L1106.6,61.5 L1107.4,53.7 L1108.2,50.79 L1109,52.9 L1110.1,69.9 L1110.75,69.6 L1111.4,66.7 L1112.25,55.61 L1113.1,45.6 L1114.2,69.9 L1114.85,64.57 L1115.5,65 L1116.3,66.47 L1117.1,69.1 L1117.9,69.6 L1118.7,76.4 L1119.3,82.85 L1119.9,89.4 L1120.55,99.35 L1121.2,97.5 L1121.85,91.42 L1122.5,79.6 L1123.6,69.9 L1124.4,79.52 L1125.2,81.3 L1126,76.57 L1126.8,66.7 L1127.65,62.51 L1128.5,65 L1129.3,67.56 L1130.1,68.3 L1130.75,65.36 L1131.4,61.8 L1132.5,46.4 L1133.15,54.26 L1133.8,60.2 L1134.4,66.02 L1135,76.4 L1136.1,81.3 L1136.75,72.28 L1137.4,69.9 L1138.2,76.67 L1139,76.4 L1139.8,76.75 L1140.6,73.1 L1141.25,76.06 L1141.9,78 L1143.1,91 L1143.7,79.2 L1144.6,80.93 L1145.5,84.8 L1146.2,90.1 L1146.9,94.6 L1147.75,89.77 L1148.6,90.4 L1149.3,98.11 L1150,101.6 L1150.7,108.31 L1151.4,114.3 L1152.1,119.57 L1152.8,125.5 L1153.9,112.8 L1154.75,109.05 L1155.6,107.2 L1156.45,109.85 L1157.3,112.8 L1158,111.6 L1158.7,110 L1159.4,116.43 L1160.1,124.1 L1160.8,118.53 L1161.5,110 L1162.2,107.52 L1162.9,104.4 L1163.8,105.65 L1164.7,107.2 L1165.4,100.45 L1166.1,96 L1166.8,96.22 L1167.5,93.2 L1168.2,96.75 L1168.9,97.4 L1169.8,96.92 L1170.7,94.6 L1171.4,86.55 L1172.1,83.4 L1172.95,81.46 L1173.8,80.6 L1174.5,77.93 L1175.2,72.2 L1176.05,69.46 L1176.9,66.6 L1177.6,65.76 L1178.3,61 L1179.2,58.92 L1180.1,58.2 L1181.1,68 L1181.8,66.16 L1182.5,61.7 L1183.2,64.31 L1183.9,65.2 L1185,76.4 L1185.7,100.2 L1186.4,94.85 L1187.1,96 L1187.8,97.39 L1188.5,100.2 L1189.45,96.33 L1190.4,93.2 L1191.2,90.27 L1192,89 L1192.85,84.12 L1193.7,82 L1194.4,87.25 L1195.1,87.6 L1196,88.82 L1196.9,90.4 L1197.6,87.42 L1198.3,82 L1199,82.74 L1199.7,87.6 L1200.4,86.06 L1201.1,91.8 L1202.1,110 L1202.8,105.07 L1203.5,101.6 L1204.2,98.73 L1204.9,94.6 L1205.8,91.93 L1206.7,91.8 L1207.4,89.93 L1208.1,86.2 L1208.85,88.84 L1209.6,89 L1210.3,85 L1211,82 L1211.7,86.11 L1212.4,90.4 L1213.1,90.66 L1213.8,93.2 L1214.5,96.49 L1215.2,96 L1216.1,101.52 L1217,101.6 L1217.85,107.26 L1218.7,111.4 L1219.4,105.02 L1220.1,100.2 L1220.9,99.52 L1221.7,101.6 L1222.4,96.85 L1223.1,93.2 L1224.05,96.86 L1225,97.4 L1225.7,91.88 L1226.4,89 L1227.3,94.7 L1228.2,94.6 L1228.9,88.96 L1229.6,87.6 L1230.3,91.79 L1231,96 L1231.7,87.81 L1232.4,75 L1233.25,76.02 L1234.1,70.8 L1234.8,71.49 L1235.5,73.6 L1236.6,84.8 L1237.3,89.35 L1238,91.8 L1238.85,98.5 L1239.7,97.4 L1240.55,98.5 L1241.4,96 L1242.1,94.49 L1242.8,98.8 L1243.5,96.37 L1244.2,93.2 L1245.1,94.26 L1246,89 L1246.9,86.75 L1247.8,87.6 L1248.65,86.71 L1249.5,83.4 L1250.2,84.82 L1250.9,91.8 L1251.75,89.18 L1252.6,82 L1253.5,81.84 L1254.4,84.8 L1255.3,82.45 L1256.2,77.1 L1257.3,82" fill="none" stroke="#f9a520" stroke-width="2.4" stroke-linejoin="round" stroke-linecap="round" shape-rendering="crispEdges"/>
<path d="M70.5,447.6 L70.5,424.9 L71.35,435.19 L72.2,435.2 L73,425.49 L73.8,418.7 L74.55,416.47 L75.3,412.5 L76.3,396 L77.15,394.23 L78,391.9 L78.7,385.01 L79.4,375.4 L80.15,369.78 L80.9,369.2 L81.7,372.61 L82.5,377.5 L83.35,373.94 L84.2,373.3 L84.9,374.86 L85.6,380.6 L86.3,370.99 L87,365.1 L87.9,350.6 L88.9,337.2 L89.9,356.8 L90.8,385.7 L91.4,376.82 L92,370.2 L92.6,374.22 L93.2,379.5 L93.85,384.76 L94.5,394 L95.2,390.78 L95.9,385.7 L96.65,391.75 L97.4,400.2 L98.2,387.96 L99,389.8 L99.85,398.62 L100.7,402.2 L101.7,396.19 L102.7,391.9 L103.4,393.7 L104.1,399.36 L104.8,402.2 L105.5,405.47 L106.2,407.85 L106.9,410.5 L107.9,407.57 L108.9,408.4 L109.65,415.02 L110.4,420.8 L111.1,422.57 L111.8,431.1 L112.65,438.43 L113.5,439.4 L114.1,443.32 L114.7,452.8 L115.3,444.6 L115.9,437.3 L116.75,441.49 L117.6,445.6 L118.4,440.88 L119.2,435.2 L119.95,430.56 L120.7,427 L121.4,433.21 L122.1,437.3 L122.8,428.6 L123.5,435.39 L124.2,435.2 L125,439.76 L125.8,445.6 L126.9,455.9 L128.1,463.1 L129.1,441.4 L129.75,444.55 L130.4,449.7 L131.2,455.29 L132,455.9 L132.85,451.65 L133.7,451.7 L134.7,452.34 L135.7,453.8 L136.4,446.5 L137.1,446.5 L137.8,442.5 L138.55,444.73 L139.3,453.8 L140,444.89 L140.7,443.5 L141.4,449.12 L142.1,446.17 L142.8,445.6 L143.6,441.14 L144.4,437.3 L145.05,430.19 L145.7,422.9 L146.5,410.5 L147.3,408.01 L148.1,412.5 L148.75,401.62 L149.4,396 L150.2,387.4 L151,377.5 L151.85,372.53 L152.7,376.4 L153.7,363 L154.4,367.45 L155.1,371.3 L155.75,363.98 L156.4,364 L157.1,369.18 L157.8,374.4 L158.9,365.1 L160.1,361 L160.9,373.3 L161.75,375 L162.6,381.6 L163.3,389.95 L164,391.9 L164.75,396.98 L165.5,398.1 L166.3,394.78 L167.1,394 L167.95,397.86 L168.8,408.4 L169.5,399.69 L170.2,394 L170.95,391 L171.7,388.8 L172.5,387.46 L173.3,390.9 L174.15,386.55 L175,381.6 L175.7,377.47 L176.4,370.2 L177.1,373.49 L177.8,377.5 L178.65,380.4 L179.5,385.7 L180.3,384.06 L181.1,379.5 L181.85,384.87 L182.6,391.9 L183.6,408.4 L184.7,420.8 L185.7,421.28 L186.7,418.7 L187.45,413.17 L188.2,409.4 L188.8,415.99 L189.4,416.7 L190.1,411.81 L190.8,408.4 L191.55,408.28 L192.3,412.5 L193.5,398.1 L194.25,395.99 L195,394 L195.3,393.6 L195.95,399.79 L196.6,408.9 L197.3,400.91 L198,397 L198.65,400.46 L199.3,404.9 L200.3,399.6 L201,404.8 L201.7,407.6 L202.6,416.9 L203.25,415.98 L203.9,424.8 L204.6,436.8 L205.7,427.5 L206.35,431.82 L207,436.8 L207.8,433.73 L208.6,431.5 L209.25,432.42 L209.9,434.1 L210.7,433.76 L211.5,431.5 L212.15,430.78 L212.8,434.1 L213.9,429.5 L214.55,433.32 L215.2,435.5 L215.85,437.62 L216.5,440.8 L217.6,455.4 L218.25,452.73 L218.9,450.1 L219.9,444.8 L220.8,454.1 L221,507.8 L221.75,503.37 L222.5,500.4 L223.25,500.89 L224,503.3 L225.2,486.4 L225.9,490.02 L226.6,496 L227.35,494.22 L228.1,491.5 L228.85,496.2 L229.6,494.5 L230.35,500.96 L231.1,504.8 L231.8,508.62 L232.5,510.7 L233.4,509.77 L234.3,507.8 L235.25,508.57 L236.2,510.7 L236.95,509.83 L237.7,507.8 L238.45,515.22 L239.2,518.1 L239.93,514.51 L240.67,518.73 L241.4,516.6 L242.15,523.8 L242.9,526.9 L244,543.1 L245.1,557.1 L246.1,544.6 L246.85,548.68 L247.6,552 L248.3,549.73 L249,544.6 L250.2,537.2 L250.95,544.04 L251.7,546.1 L252.45,543.35 L253.2,532.8 L253.95,537.99 L254.7,538.7 L255.4,543.45 L256.1,541.7 L256.85,543.71 L257.6,544.6 L258.35,539.91 L259.1,532.8 L260.3,516.6 L261.3,501.9 L262.05,502.82 L262.8,503.3 L263.5,498.65 L264.2,493 L265.3,486.4 L266,491.46 L266.7,498.9 L267.9,491.5 L268.65,498.06 L269.4,501.9 L270.15,513.09 L270.9,518.1 L271.6,510.21 L272.3,503.3 L273.05,511.13 L273.8,518.1 L274.55,518.61 L275.3,516.6 L276.5,524 L277.2,518.03 L277.9,512.2 L278.65,518.97 L279.4,522.5 L280.3,520.68 L281.2,518.1 L281.95,511.42 L282.7,509.2 L283.4,507.02 L284.1,507.8 L284.85,509.43 L285.6,509.2 L286.8,516.6 L287.7,518.99 L288.6,519.5 L289.3,525.65 L290,528.4 L290.75,531.68 L291.5,534.3 L292.25,537.51 L293,540.2 L293.75,535.92 L294.5,537.2 L295.2,545.44 L295.9,549 L296.65,543.7 L297.4,541.7 L298.3,540.08 L299.2,535 L300.4,544.6 L301.1,543.67 L301.8,546.8 L302.55,543.13 L303.3,541.7 L304.2,543.34 L305.1,544.6 L306.05,540.22 L307,537.2 L307.95,539.07 L308.9,543.1 L309.8,540.43 L310.7,535 L311.55,537.88 L312.4,538.7 L313.4,541.48 L314.4,543.1 L315.1,545.46 L315.8,549 L316.55,543.99 L317.3,541.7 L318.25,537.94 L319.2,535.8 L319.95,527.52 L320.7,521 L321.6,518.37 L322.5,515.9 L323.2,520.37 L323.9,522.5 L324.8,522.97 L325.7,524 L326.5,521.9 L327.3,523.47 L328.1,527.6 L328.9,524.22 L329.7,522.7 L330.35,529.37 L331,532.4 L331.8,536.66 L332.6,540.5 L333.6,541.21 L334.6,541.3 L335.55,540.38 L336.5,538.9 L337.2,539.78 L337.9,539.56 L338.6,539.7 L339.45,543.39 L340.3,544.6 L341.1,545.19 L341.9,541.03 L342.7,543.8 L343.65,546.47 L344.6,549.5 L345.33,551.89 L346.07,545.77 L346.8,546.2 L347.5,545.54 L348.2,545.87 L348.9,543.8 L349.85,545.39 L350.8,547 L351.8,547.78 L352.8,545.4 L353.6,547.94 L354.4,553.5 L355.1,551.19 L355.8,551.67 L356.5,551.1 L357.3,546.96 L358.1,544.6 L358.9,541.66 L359.7,541.3 L360.5,536.25 L361.3,530 L362.03,529.52 L362.77,528.41 L363.5,527.6 L364.45,526.32 L365.4,525.9 L366.1,525.38 L366.8,524.17 L367.5,523.5 L368.25,525.97 L369,530 L369.8,529.35 L370.6,527.6 L371.4,531.25 L372.2,534.1 L373,532.96 L373.8,531.6 L374.5,535.05 L375.2,535.81 L375.9,539.7 L376.63,539.81 L377.37,539.67 L378.1,540.5 L379.05,543.98 L380,544.6 L380.8,545.68 L381.6,547.94 L382.4,546.2 L383.1,548.42 L383.8,546.87 L384.5,547.8 L385.5,547.74 L386.5,550.3 L387.45,552.87 L388.4,554.3 L389.1,555.06 L389.8,556.31 L390.5,557.6 L391.35,560.67 L392.2,566.5 L393,568.88 L393.8,569.7 L394.6,573.17 L395.4,576.2 L396.1,574.78 L396.8,572.77 L397.5,570.5 L398.27,568.89 L399.03,566.76 L399.8,568.9 L400.5,569.61 L401.2,570.2 L401.9,572.2 L402.7,572.65 L403.5,574.6 L404.6,593.2 L405.33,592.75 L406.07,589.88 L406.8,588.4 L407.5,588.64 L408.2,584.86 L408.9,582.7 L409.85,582.57 L410.8,580.3 L411.6,580.17 L412.4,578.6 L413.05,586.75 L413.7,592.4 L414.7,582.81 L415.7,576.2 L416.5,576.3 L417.3,573 L417.95,580.47 L418.6,587.6 L419.55,587.28 L420.5,590 L421.5,587.88 L422.5,584.3 L423.2,585.94 L423.9,588.5 L424.6,587.6 L425.4,585.4 L426.2,581.1 L427,579.97 L427.8,577.8 L428.65,569.01 L429.5,564.9 L430.3,564.86 L431.1,560 L431.9,564.18 L432.7,564.1 L433.8,573.8 L434.5,574.08 L435.2,572.8 L435.9,571.3 L436.6,574.8 L437.3,573.96 L438,577 L438.85,577.4 L439.7,576.2 L440,581.6 L440.9,580.93 L441.8,580.2 L442.7,580.39 L443.6,583.1 L444.55,586.61 L445.5,589 L446.25,591.29 L447,592.7 L447.7,590.79 L448.4,584.6 L449.15,581.65 L449.9,575.7 L450.85,572.99 L451.8,574.3 L452.7,572.54 L453.6,575.7 L454.5,578.56 L455.4,581.6 L456.35,582.86 L457.3,584.6 L458.25,585.37 L459.2,588.3 L460.1,586.97 L461,589 L461.75,584.73 L462.5,580.9 L463.23,579.68 L463.97,580.5 L464.7,581.6 L465.45,581.13 L466.2,578.7 L466.9,573.07 L467.6,566.9 L468.35,569.74 L469.1,574.3 L470.05,574.47 L471,577.2 L471.9,577.74 L472.8,578.7 L473.55,583.62 L474.3,584.6 L475.15,585.18 L476,586.8 L477,587.48 L478,584.6 L478.95,585.64 L479.9,588.3 L480.75,589.18 L481.6,590.5 L482.5,592.32 L483.4,592.7 L484.35,594.5 L485.3,597.9 L486.3,597.56 L487.3,597.1 L488.15,597.95 L489,601.6 L489.73,602.98 L490.47,604.13 L491.2,603 L491.93,602.11 L492.67,603.26 L493.4,603 L494.15,599.89 L494.9,597.9 L495.5,592.49 L496.1,593.4 L496.85,601.12 L497.6,600.8 L498.8,592 L499.9,608.2 L500.75,606.86 L501.6,603.8 L502.55,604.17 L503.5,602.3 L504.4,602 L505.3,600.8 L506,602.5 L506.7,603.8 L507.6,604.33 L508.5,599.4 L509.45,595.77 L510.4,597.1 L511.15,599.27 L511.9,602.3 L512.65,596.58 L513.4,592 L514.1,588.81 L514.8,586.1 L515.57,586.97 L516.33,585.19 L517.1,586.1 L517.95,585.88 L518.8,589 L519.75,587.23 L520.7,588.3 L521.45,590.67 L522.2,592 L522.95,597.48 L523.7,600.8 L524.45,603.8 L525.2,605.3 L526.15,608 L527.1,606.7 L528,606.74 L528.9,608.2 L529.63,609.84 L530.37,609.99 L531.1,609.7 L531.95,606.56 L532.8,603.8 L533.4,606.23 L534,610.4 L534.73,612.5 L535.47,611.54 L536.2,613.4 L537.1,611.15 L538,609.7 L538.75,606.98 L539.5,606.7 L540.45,611.49 L541.4,611.9 L542.15,609.63 L542.9,607.5 L543.85,608.77 L544.8,611.2 L545.7,610.51 L546.6,610.4 L547.45,609.79 L548.3,609.7 L549.3,608.3 L550.3,606.7 L551.25,604.04 L552.2,605.3 L552.95,600.26 L553.7,597.9 L554.55,594.89 L555.4,590.5 L556.15,594.17 L556.9,594.9 L557.8,594.27 L558.7,596.4 L559.9,600.8 L560.7,597.45 L561.5,593.8 L562.4,593.89 L563.3,595.3 L564.05,589.95 L564.8,590.8 L565.65,591.16 L566.5,592.3 L567.25,589.49 L568,589.4 L568.95,594.25 L569.9,596.7 L570.85,598.26 L571.8,600.4 L572.55,596.29 L573.3,592.3 L574.05,586.28 L574.8,584.9 L575.7,582.93 L576.6,580.5 L577.3,574.46 L578,574.6 L578.75,573.07 L579.5,570.9 L580.2,565 L580.95,569.47 L581.7,570.2 L582.65,568.9 L583.6,570.9 L584.5,573.16 L585.4,573.1 L586.15,577.21 L586.9,577.5 L587.8,580.17 L588.7,583.4 L589.65,586.42 L590.6,586.4 L591.55,584.31 L592.5,582 L593.5,571.6 L594.45,571.38 L595.4,572.4 L596.3,567.81 L597.2,568.7 L598.1,566.24 L599,566.5 L599.6,558.73 L600.2,554.7 L601.4,537 L602.1,542.37 L602.8,540.7 L603.55,538.65 L604.3,535.5 L605.05,535.59 L605.8,536.2 L606.55,539 L607.3,545.8 L608,543.42 L608.7,534.8 L609.45,534.89 L610.2,539.2 L611.2,531.8 L611.95,538.94 L612.7,540.7 L613.65,541.78 L614.6,539.9 L615.5,541.88 L616.4,543.6 L617.15,548.25 L617.9,554.7 L618.75,554.98 L619.6,555.4 L620.35,547.69 L621.1,543.6 L622.3,539.2 L622.9,546.13 L623.5,551 L624.4,554.02 L625.3,551.7 L626,547.61 L626.7,540.7 L627.45,545.55 L628.2,546.6 L628.95,547.69 L629.7,551 L630.9,558.4 L631.6,564.72 L632.3,570.2 L633.2,568.74 L634.1,569.4 L635,568.58 L635.9,568.7 L636.85,568.35 L637.8,566.5 L638.55,567.98 L639.3,564.3 L640,561.02 L640.7,557.6 L641.7,557.3 L642.7,556.9 L643.7,562.8 L644.7,574.6 L645.7,574.22 L646.7,579 L647.4,580.74 L648.1,582 L649.05,579.26 L650,579 L650.9,574.89 L651.8,574.6 L652.55,572.53 L653.3,573.9 L654.05,578.14 L654.8,582 L655.65,584.41 L656.5,587.9 L657.5,589.17 L658.5,588.6 L659.2,585.68 L659.9,583.4 L660.85,581.19 L661.8,579 L662.7,579.74 L663.6,576.8 L664.5,575.96 L665.4,573.1 L666.35,575.16 L667.3,575.3 L668.25,574.97 L669.2,571.6 L670.1,568.88 L671,565.7 L671.73,564.21 L672.47,563.94 L673.2,564.3 L674.15,561.56 L675.1,562.1 L676,561.32 L676.9,559.8 L677.8,558.68 L678.7,558.4 L679.9,564.3 L680.5,568 L681.1,570.2 L682.05,573.98 L683,575.3 L683.9,571.56 L684.8,570.2 L685.65,566.77 L686.5,562.8 L687.45,562.77 L688.4,559.8 L689.17,560.4 L689.93,561.88 L690.7,561.3 L691.55,559.97 L692.4,559.1 L693.15,556.9 L693.9,556.9 L694.85,559.53 L695.8,562.8 L696.55,563.73 L697.3,570.2 L698.05,575.64 L698.8,579 L699.53,579.71 L700.27,583.91 L701,583.4 L701.9,579.17 L702.8,578.3 L703.75,576.61 L704.7,574.6 L705.65,573.53 L706.6,571.6 L707.5,570.24 L708.4,569.4 L709.25,568.74 L710.1,567.2 L711.1,568.62 L712.1,571.6 L712.8,574.19 L713.5,579 L714.45,577.47 L715.4,579.8 L716.3,578.21 L717.2,578.3 L718.1,580.39 L719,584.9 L719.95,587.77 L720.9,590.1 L721.85,587.08 L722.8,584.9 L723.7,582.61 L724.6,582 L725.33,580.34 L726.07,578.13 L726.8,579.8 L727.75,578.23 L728.7,577.5 L729.6,579.82 L730.5,581.2 L731.25,576.21 L732,574.6 L732.85,575.72 L733.7,577.5 L734.7,576.15 L735.7,573.1 L736.65,569.6 L737.6,568 L738.5,566.41 L739.4,564.3 L740.25,562.61 L741.1,562.1 L742.05,567.76 L743,567.2 L744,571.92 L745,573.1 L745.85,575.97 L746.7,576.1 L747.43,576.04 L748.17,578.32 L748.9,578.3 L749.9,574.78 L750.9,571.6 L751.75,571.98 L752.6,571.6 L753.33,571.77 L754.07,573.3 L754.8,573.9 L755.8,574.2 L756.8,576.1 L757.65,576.76 L758.5,576.8 L759.4,577.18 L760.3,573.9 L761.25,572.82 L762.2,574.6 L763.15,571.98 L764.1,572.4 L765,574.43 L765.9,575.3 L766.8,578.81 L767.7,580.5 L768.45,582.18 L769.2,584.9 L770.15,587.97 L771.1,589.4 L772.05,588.84 L773,587.1 L773.9,585.31 L774.8,582 L775.65,580.81 L776.5,576.1 L777.5,573.56 L778.5,572.4 L779.45,573.59 L780.4,573.1 L781.25,572.6 L782.1,571.6 L783,571.48 L783.9,573.1 L784.65,571.07 L785.4,568 L786.35,568.28 L787.3,571.6 L788.05,573.22 L788.8,578.3 L789.55,580.66 L790.3,580.5 L791,577.71 L791.7,577.5 L792.7,580.77 L793.7,580.5 L794.55,581.02 L795.4,579.8 L796.13,579.1 L796.87,578.53 L797.6,579 L798.6,577.54 L799.6,579.8 L800.35,579.94 L801.1,580.2 L801.83,579.45 L802.57,583.78 L803.3,583.1 L804.03,580.37 L804.77,581.23 L805.5,580.2 L806.23,578.07 L806.97,581.3 L807.7,582.4 L808.43,583.2 L809.17,580.41 L809.9,580.2 L810.85,578.93 L811.8,579.4 L812.4,572.8 L813.3,579.4 L814.05,579.53 L814.8,580.9 L815.55,583.23 L816.3,584.6 L817,583.33 L817.7,580.2 L818.6,579.57 L819.5,579.4 L820.23,577.98 L820.97,581.19 L821.7,581.6 L822.43,582.15 L823.17,583.08 L823.9,580.2 L824.67,580.84 L825.43,581.31 L826.2,581.6 L827.15,579.93 L828.1,579.4 L829.1,577.31 L830.1,573.5 L830.85,578.89 L831.6,580.2 L832.55,580.49 L833.5,583.1 L834.45,585.39 L835.4,587.5 L836.3,585.59 L837.2,586.1 L838.1,586.75 L839,589 L839.95,589.9 L840.9,591.2 L841.85,593.56 L842.8,594.9 L843.5,593.28 L844.2,593.12 L844.9,592.7 L845.85,595.23 L846.8,594.9 L847.75,595.08 L848.7,594.2 L849.45,599.73 L850.2,603.8 L851.1,603.11 L852,601.6 L852.73,601.63 L853.47,602.5 L854.2,602.3 L855.15,605.44 L856.1,607.5 L856.8,608.23 L857.5,610.04 L858.2,609.7 L859.15,609.3 L860.1,608.9 L860.83,609.11 L861.57,607.45 L862.3,606.7 L863.03,606.92 L863.77,605.12 L864.5,605.3 L865.45,603.26 L866.4,602.3 L867.3,601.95 L868.2,603.8 L868.93,604.43 L869.67,603.28 L870.4,602.3 L871.35,602.84 L872.3,603 L873.2,603.98 L874.1,603.8 L875,602.26 L875.9,602.3 L876.85,605.35 L877.8,608.2 L878.55,608.76 L879.3,610.4 L880.25,605.88 L881.2,605.3 L882.1,606.11 L883,607.5 L883.73,606.07 L884.47,608 L885.2,606 L886.15,604.11 L887.1,603.8 L887.8,602.64 L888.5,603.83 L889.2,602.3 L890.15,602.63 L891.1,603 L892.05,599.79 L893,599.4 L893.75,596.61 L894.5,593.4 L895.35,590.64 L896.2,589.8 L896.97,592.19 L897.73,588.92 L898.5,590.5 L899.45,589.2 L900.4,589.8 L901.1,589.16 L901.8,594.9 L902.7,591.16 L903.6,589 L904.5,589.72 L905.4,586.1 L906.35,587.4 L907.3,589 L908.25,588.63 L909.2,590.5 L910.1,588.98 L911,586.8 L911.9,587.21 L912.8,588.3 L913.75,590.81 L914.7,593.4 L915.45,597.29 L916.2,596.4 L917.15,597.58 L918.1,594.9 L919,596.63 L919.9,594.9 L920.65,595.9 L921.4,593.3 L922.35,594.39 L923.3,597.3 L924,594.58 L924.7,596.42 L925.4,594.9 L926.1,596.12 L926.8,596.54 L927.5,597.3 L928.5,598.02 L929.5,599 L930.3,599.43 L931.1,599.01 L931.9,598.2 L932.6,599.52 L933.3,600.81 L934,601.4 L935,600.8 L936,600.6 L936.95,601.04 L937.9,602.2 L938.6,604.56 L939.3,603.59 L940,604.7 L940.7,606.88 L941.4,605.85 L942.1,605.5 L943.1,604.32 L944.1,603 L945.05,602.63 L946,599.8 L946.7,599.85 L947.4,600.68 L948.1,601.4 L948.95,597.42 L949.8,594.1 L950.5,594.36 L951.2,595.29 L951.9,594.9 L952.85,597.7 L953.8,596.5 L954.63,597.39 L955.47,595.74 L956.3,597.3 L957.1,594.7 L957.9,594.1 L959,583.6 L959.7,580.28 L960.4,582.29 L961.1,580.3 L961.8,582.47 L962.5,582.9 L963.2,583.6 L964.2,581.19 L965.2,577.9 L966,576.49 L966.8,573.8 L967.75,575.12 L968.7,575.4 L969.43,575.2 L970.17,573.57 L970.9,572.2 L972,559.2 L972.8,556.98 L973.6,558.4 L974.25,553.23 L974.9,544.6 L975.55,555.72 L976.2,561.6 L977,562.03 L977.8,568.9 L978.65,566.04 L979.5,564.1 L980.3,557.96 L981.1,556 L982.2,567.3 L983.4,573.8 L984.2,572.21 L985,568.9 L985.7,568.21 L986.4,570.45 L987.1,568.1 L987.8,570 L988.5,567.95 L989.2,568.9 L990.15,564.99 L991.1,562.5 L991.93,561.48 L992.77,562.6 L993.6,561.6 L994.4,564.1 L995.2,568.9 L996.3,577.1 L997,576.37 L997.7,573.7 L998.4,573.8 L999.13,575.34 L999.87,574.91 L1000.6,574.6 L1001.55,572.78 L1002.5,573.8 L1003.3,572.55 L1004.1,573 L1004.9,576 L1005.7,578.7 L1006.55,577.35 L1007.4,575.4 L1008.35,570.7 L1009.3,573 L1010.1,569.62 L1010.9,565.7 L1011.63,566.75 L1012.37,563.55 L1013.1,563.3 L1013.9,559.78 L1014.7,559.2 L1015.5,562.89 L1016.3,563.3 L1017,563.35 L1017.7,563.02 L1018.4,562.5 L1019.4,563.72 L1020.4,563.3 L1021.35,564.21 L1022.3,568.1 L1023.1,565.28 L1023.9,564.1 L1024.6,563.8 L1025.3,564.86 L1026,567.3 L1026.85,567.67 L1027.7,568.9 L1028.5,561.84 L1029.3,557.6 L1030.4,556 L1031.05,564.8 L1031.7,567.3 L1032.35,573.3 L1033,577.1 L1033.8,575.68 L1034.6,570.6 L1035.2,570.9 L1035.8,578.7 L1036.9,594.9 L1037.6,620.9 L1038.2,633.9 L1038.8,619 L1039.55,612.3 L1040.3,606.6 L1040.9,605.44 L1041.5,604.9 L1042.1,607.36 L1042.7,609.3 L1043.4,606.04 L1044.1,601.3 L1044.85,596.86 L1045.6,595.1 L1046.2,590.46 L1046.8,588.9 L1047.4,594.03 L1048,596 L1048.9,598.85 L1049.8,594.2 L1050.7,599.37 L1051.6,598.7 L1052.3,598.69 L1053,599.5 L1053.7,595.21 L1054.4,592.5 L1055.3,591.78 L1056.2,590.7 L1056.8,581.86 L1057.4,572.1 L1058.3,574.4 L1059.2,570.4 L1060.05,570.79 L1060.9,572.1 L1061.55,564.49 L1062.2,559.8 L1062.9,566.38 L1063.6,569.5 L1064.5,564.28 L1065.4,561.5 L1066.1,563.16 L1066.8,567.7 L1067.5,568.01 L1068.2,566.24 L1068.9,566 L1069.6,563.03 L1070.3,563.15 L1071,562.4 L1071.77,561 L1072.53,560.37 L1073.3,559.8 L1074.2,555.31 L1075.1,552.7 L1075.95,550.56 L1076.8,546.5 L1077.45,545.4 L1078.1,545.6 L1078.6,523.5 L1079.4,497.9 L1080.4,484.1 L1081.05,488.83 L1081.7,496.3 L1082.7,481.7 L1083.3,455.7 L1084.3,441.1 L1084.9,429.7 L1085.6,481.7 L1086.2,447.6 L1086.85,450.77 L1087.5,449.2 L1088.1,453.6 L1088.7,462.2 L1089.8,449.2 L1090.45,446.3 L1091.1,440.3 L1092.1,449.2 L1093,458.9 L1093.65,458.14 L1094.3,455.7 L1094.95,453.66 L1095.6,452.5 L1096.2,455.2 L1096.8,457.3 L1097.9,458.9 L1098.6,484.9 L1099.2,504.4 L1099.85,492.9 L1100.5,488.1 L1101.6,489.8 L1102.2,496.84 L1102.8,502.8 L1103.45,488.31 L1104.1,478.4 L1104.75,481.56 L1105.4,488.1 L1106.05,485.46 L1106.7,481.7 L1107.35,478.6 L1108,478.4 L1108.9,486.5 L1109.9,499.5 L1110.65,497.3 L1111.4,494.6 L1112.5,488.1 L1113.5,472.7 L1114.6,488.1 L1115.2,486.79 L1115.8,484.1 L1116.45,487.87 L1117.1,488.1 L1117.75,490.42 L1118.4,491.4 L1119.5,501.1 L1120.6,507.6 L1121.6,491.4 L1122.25,490.71 L1122.9,486.5 L1123.55,488.46 L1124.2,493 L1125.2,489.8 L1126,480 L1127.1,468.7 L1127.75,467.08 L1128.4,467.1 L1129.05,473.36 L1129.7,476.8 L1130.8,465.4 L1131.4,464.73 L1132,458.9 L1133,449.2 L1133.9,462.2 L1134.6,480 L1135.25,481.83 L1135.9,481.7 L1136.9,471.9 L1138.1,468.7 L1138.75,471.57 L1139.4,476.8 L1140.4,463.8 L1141.1,431.4 L1141.9,462.2 L1143,455.7 L1143.65,451.41 L1144.3,450.8 L1144.9,448.37 L1145.5,449.2 L1146.6,452.5 L1147.25,448.43 L1147.9,441.1 L1148.9,452.5 L1149.8,460.6 L1150.5,463.8 L1151.35,468.09 L1152.2,476.8 L1153,470.64 L1153.8,465.4 L1154.5,466.24 L1155.2,465.28 L1155.9,463.8 L1156.7,468.71 L1157.5,476.8 L1158.3,483.59 L1159.1,481.7 L1160.1,491.4 L1160.75,485.17 L1161.4,478.4 L1162.2,479.66 L1163,480 L1163.65,478.17 L1164.3,473.6 L1165.15,470.61 L1166,468.7 L1166.65,465.81 L1167.3,460.6 L1168.1,463.6 L1168.9,467.1 L1169.7,464.74 L1170.5,465.4 L1171.3,457.32 L1172.1,452.5 L1172.95,451.4 L1173.8,449.2 L1174.6,445.29 L1175.4,441.1 L1176.35,443.29 L1177.3,446 L1178.3,442.88 L1179.3,441.1 L1180.1,444.75 L1180.9,449.2 L1181.7,447.5 L1182.5,443.5 L1183.3,446.34 L1184.1,446 L1184.75,456.15 L1185.4,467.1 L1186.4,468.67 L1187.4,469.5 L1188.2,466.45 L1189,467.9 L1189.65,463.38 L1190.3,462.2 L1191.1,463.62 L1191.9,467.1 L1192.9,464.12 L1193.9,463.8 L1194.55,468.94 L1195.2,471.9 L1196,471.32 L1196.8,476.8 L1197.45,480.41 L1198.1,482.5 L1198.75,479.12 L1199.4,473.6 L1200.15,477.59 L1200.9,475.2 L1201.6,484.17 L1202.3,494.7 L1203.2,496.84 L1204.1,497.9 L1204.9,501.28 L1205.7,501.1 L1206.5,499.46 L1207.3,494.7 L1208.03,492.46 L1208.77,492.07 L1209.5,491.4 L1210.3,485.02 L1211.1,482.5 L1211.9,487.06 L1212.7,491.4 L1213.5,494.45 L1214.3,494.7 L1215.1,504.79 L1215.9,509.3 L1216.75,511.64 L1217.6,511.7 L1218.3,517.76 L1219,520.6 L1219.8,507.6 L1220.65,509.78 L1221.5,508.4 L1222.3,503.36 L1223.1,501.1 L1223.9,499.03 L1224.7,494.7 L1225.35,493.08 L1226,488.2 L1226.65,486.24 L1227.3,484.9 L1228.1,486.53 L1228.9,491.4 L1229.55,493.31 L1230.2,494.7 L1230.95,489.26 L1231.7,483.3 L1232.5,481.21 L1233.3,476.8 L1234.1,475.79 L1234.9,481.7 L1235.75,485.03 L1236.6,489.8 L1237.4,498.86 L1238.2,501.1 L1239,507.06 L1239.8,509.3 L1240.6,510.21 L1241.4,511.7 L1242.25,512.95 L1243.1,514.9 L1243.9,513.38 L1244.7,512.5 L1245.5,507.3 L1246.3,504.4 L1247.1,504.49 L1247.9,506 L1248.7,503.08 L1249.5,500.3 L1250.25,504.48 L1251,513.3 L1251.65,508.73 L1252.3,504.4 L1252.95,503.74 L1253.6,502 L1254.25,493.9 L1254.9,491.4 L1256,486.5 L1256.6,490.41 L1257.2,496.3" fill="none" stroke="#c9c9c9" stroke-width="2.4" stroke-linejoin="round" stroke-linecap="round" shape-rendering="crispEdges"/>
<text x="97.60" y="255.2" font-size="25" fill="#f7a01f" stroke="#f7a01f" stroke-width="1.5" stroke-linejoin="round" textLength="57.20" lengthAdjust="spacingAndGlyphs">Gold</text>
<text x="167.20" y="255.2" font-size="25" fill="#f7a01f" stroke="#f7a01f" stroke-width="1.5" stroke-linejoin="round" textLength="54.60" lengthAdjust="spacingAndGlyphs">$/oz</text>
<text x="83.60" y="543.2" font-size="25" fill="#c4c4c4" stroke="#c4c4c4" stroke-width="1.5" stroke-linejoin="round" textLength="71.00" lengthAdjust="spacingAndGlyphs">Silver</text>
<text x="167.40" y="543.2" font-size="25" fill="#c4c4c4" stroke="#c4c4c4" stroke-width="1.5" stroke-linejoin="round" textLength="55.20" lengthAdjust="spacingAndGlyphs">$/oz</text>
<rect x="154.5" y="14.5" width="891" height="62" fill="#232323" stroke="#d6e9f1" stroke-width="1"/>
<text x="180.50" y="52" font-size="26.6" fill="#dcf3fb" stroke="#dcf3fb" stroke-width="1.1" textLength="62.00" lengthAdjust="spacingAndGlyphs">Gold</text>
<text x="252.00" y="52" font-size="26.6" fill="#dcf3fb" stroke="#dcf3fb" stroke-width="1.1" textLength="50.00" lengthAdjust="spacingAndGlyphs">and</text>
<text x="313.00" y="52" font-size="26.6" fill="#dcf3fb" stroke="#dcf3fb" stroke-width="1.1" textLength="73.50" lengthAdjust="spacingAndGlyphs">silver</text>
<text x="397.50" y="52" font-size="26.6" fill="#dcf3fb" stroke="#dcf3fb" stroke-width="1.1" textLength="83.00" lengthAdjust="spacingAndGlyphs">prices</text>
<text x="490.50" y="52" font-size="26.6" fill="#dcf3fb" stroke="#dcf3fb" stroke-width="1.1" textLength="66.50" lengthAdjust="spacingAndGlyphs">have</text>
<text x="567.00" y="52" font-size="26.6" fill="#dcf3fb" stroke="#dcf3fb" stroke-width="1.1" textLength="98.50" lengthAdjust="spacingAndGlyphs">slipped</text>
<text x="675.50" y="52" font-size="26.6" fill="#dcf3fb" stroke="#dcf3fb" stroke-width="1.1" textLength="67.00" lengthAdjust="spacingAndGlyphs">after</text>
<text transform="translate(752.00,52) scale(0.97,1)" x="0" y="0" font-size="26.6" fill="#dcf3fb" stroke="#dcf3fb" stroke-width="1.1">a</text>
<text x="778.00" y="52" font-size="26.6" fill="#dcf3fb" stroke="#dcf3fb" stroke-width="1.1" textLength="75.00" lengthAdjust="spacingAndGlyphs">sharp</text>
<text x="863.50" y="52" font-size="26.6" fill="#dcf3fb" stroke="#dcf3fb" stroke-width="1.1" textLength="50.50" lengthAdjust="spacingAndGlyphs">rise</text>
<text x="924.00" y="52" font-size="26.6" fill="#dcf3fb" stroke="#dcf3fb" stroke-width="1.1" textLength="25.50" lengthAdjust="spacingAndGlyphs">in</text>
<text x="960.50" y="52" font-size="26.6" fill="#dcf3fb" stroke="#dcf3fb" stroke-width="1.1" textLength="68.50" lengthAdjust="spacingAndGlyphs">2020</text>
<rect x="0" y="677" width="1317" height="1" fill="#e6e6e6"/>
<rect x="2" y="677" width="34" height="1" fill="#ffffff"/>
</svg></body></html>
